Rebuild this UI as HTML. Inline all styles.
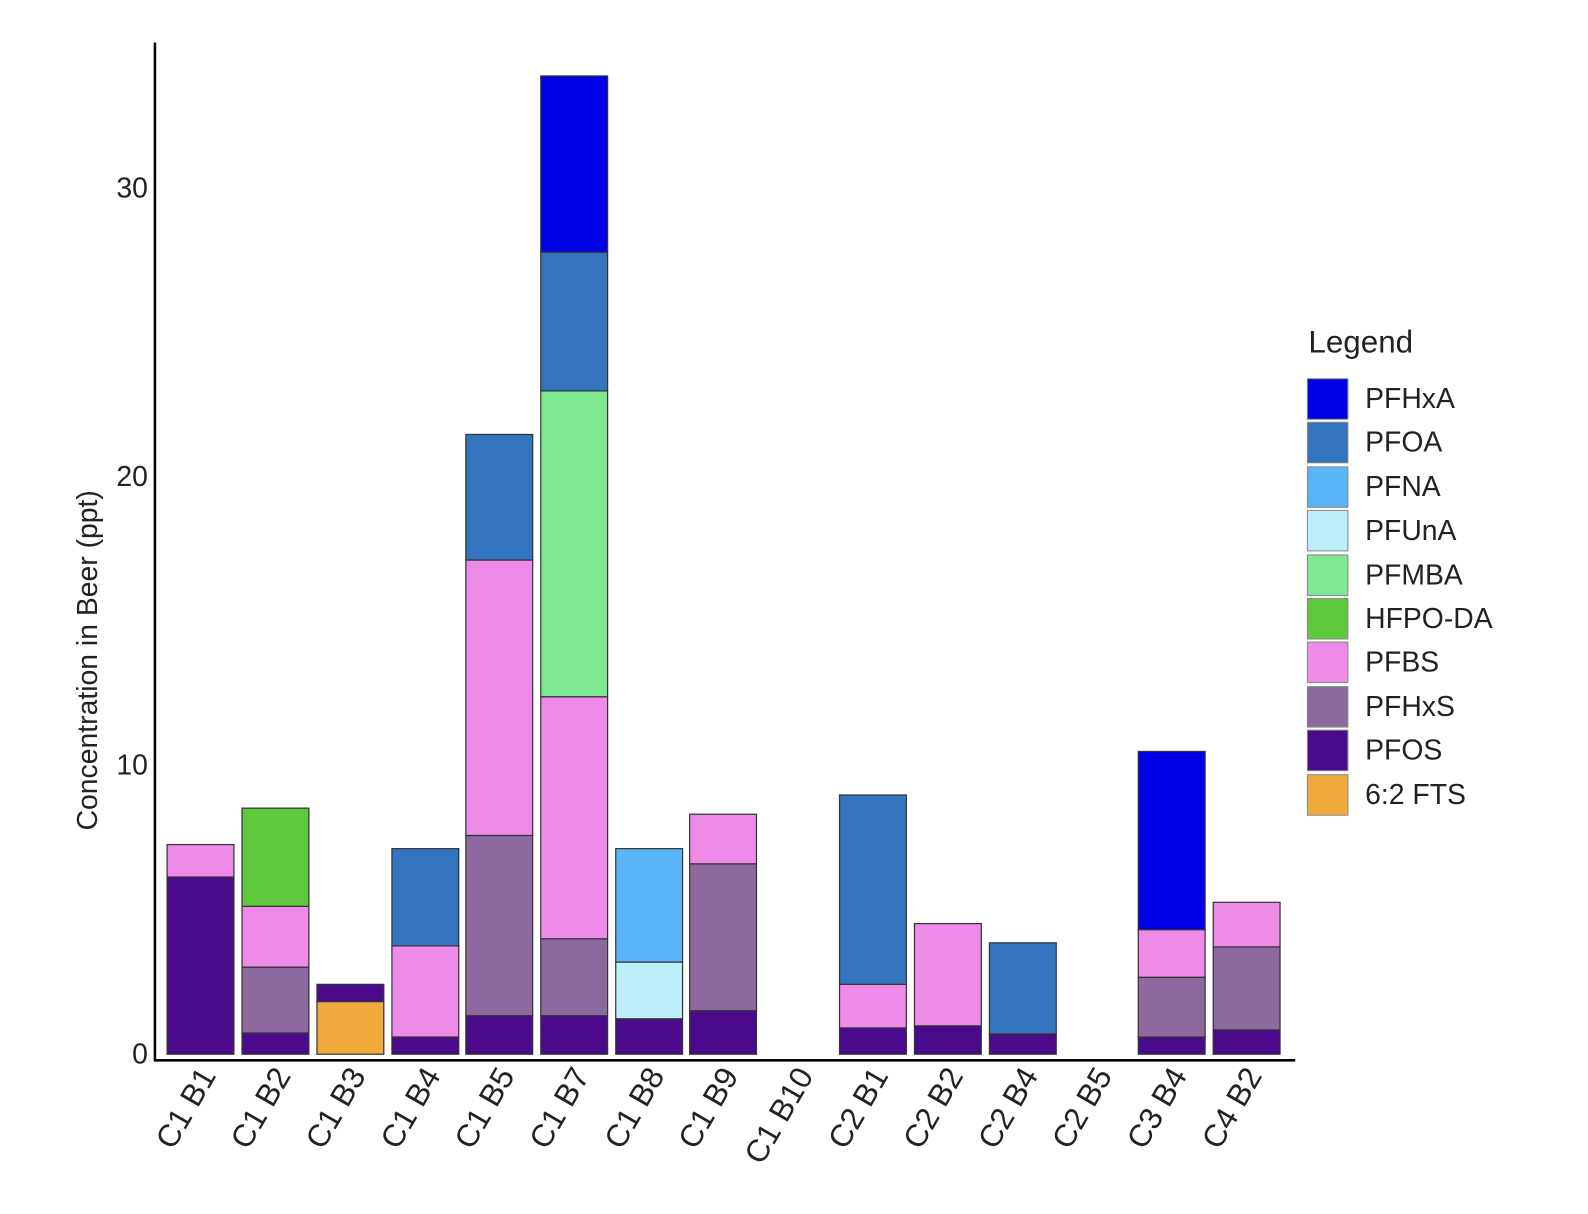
<!DOCTYPE html>
<html><head><meta charset="utf-8"><style>
html,body{margin:0;padding:0;background:#fff;}
svg{display:block;font-family:"Liberation Sans",Arial,sans-serif;}
</style></head><body>
<svg width="1588" height="1214" viewBox="0 0 1588 1214" xmlns="http://www.w3.org/2000/svg">
<rect width="1588" height="1214" fill="#fff"/>
<g transform="scale(1.0127)">
<g stroke="#333" stroke-width="1.2">
<rect x="165" y="866" width="66" height="175" fill="#4b0a8c"/>
<rect x="165" y="834" width="66" height="32" fill="#ee8ae8"/>
<rect x="239" y="1020" width="66" height="21" fill="#4b0a8c"/>
<rect x="239" y="955" width="66" height="65" fill="#8c6aa0"/>
<rect x="239" y="895" width="66" height="60" fill="#ee8ae8"/>
<rect x="239" y="798" width="66" height="97" fill="#5ec83c"/>
<rect x="313" y="989" width="66" height="52" fill="#f0aa3c"/>
<rect x="313" y="972" width="66" height="17" fill="#4b0a8c"/>
<rect x="387" y="1024" width="66" height="17" fill="#4b0a8c"/>
<rect x="387" y="934" width="66" height="90" fill="#ee8ae8"/>
<rect x="387" y="838" width="66" height="96" fill="#3274bd"/>
<rect x="460" y="1003" width="66" height="38" fill="#4b0a8c"/>
<rect x="460" y="825" width="66" height="178" fill="#8c6aa0"/>
<rect x="460" y="553" width="66" height="272" fill="#ee8ae8"/>
<rect x="460" y="429" width="66" height="124" fill="#3274bd"/>
<rect x="534" y="1003" width="66" height="38" fill="#4b0a8c"/>
<rect x="534" y="927" width="66" height="76" fill="#8c6aa0"/>
<rect x="534" y="688" width="66" height="239" fill="#ee8ae8"/>
<rect x="534" y="386" width="66" height="302" fill="#7de891"/>
<rect x="534" y="249" width="66" height="137" fill="#3274bd"/>
<rect x="534" y="75" width="66" height="174" fill="#0000e6"/>
<rect x="608" y="1006" width="66" height="35" fill="#4b0a8c"/>
<rect x="608" y="950" width="66" height="56" fill="#bdeefa"/>
<rect x="608" y="838" width="66" height="112" fill="#5ab4f8"/>
<rect x="681" y="998" width="66" height="43" fill="#4b0a8c"/>
<rect x="681" y="853" width="66" height="145" fill="#8c6aa0"/>
<rect x="681" y="804" width="66" height="49" fill="#ee8ae8"/>
<rect x="829" y="1015" width="66" height="26" fill="#4b0a8c"/>
<rect x="829" y="972" width="66" height="43" fill="#ee8ae8"/>
<rect x="829" y="785" width="66" height="187" fill="#3274bd"/>
<rect x="903" y="1013" width="66" height="28" fill="#4b0a8c"/>
<rect x="903" y="912" width="66" height="101" fill="#ee8ae8"/>
<rect x="977" y="1021" width="66" height="20" fill="#4b0a8c"/>
<rect x="977" y="931" width="66" height="90" fill="#3274bd"/>
<rect x="1124" y="1024" width="66" height="17" fill="#4b0a8c"/>
<rect x="1124" y="965" width="66" height="59" fill="#8c6aa0"/>
<rect x="1124" y="918" width="66" height="47" fill="#ee8ae8"/>
<rect x="1124" y="742" width="66" height="176" fill="#0000e6"/>
<rect x="1198" y="1017" width="66" height="24" fill="#4b0a8c"/>
<rect x="1198" y="935" width="66" height="82" fill="#8c6aa0"/>
<rect x="1198" y="891" width="66" height="44" fill="#ee8ae8"/>
</g>
<line x1="153" y1="42" x2="153" y2="1048" stroke="#000" stroke-width="2.5"/>
<line x1="152" y1="1047" x2="1279" y2="1047" stroke="#000" stroke-width="2.5"/>
<g font-size="28" fill="#222" text-anchor="end">
<text x="146" y="195">30</text>
<text x="146" y="480">20</text>
<text x="146" y="765">10</text>
<text x="146" y="1050">0</text>
</g>
<text transform="translate(96,652) rotate(-90)" font-size="28" fill="#222" text-anchor="middle">Concentration in Beer (ppt)</text>
<g font-size="31" fill="#222" text-anchor="end">
<text transform="translate(214,1062) rotate(-60)">C1 B1</text>
<text transform="translate(288,1062) rotate(-60)">C1 B2</text>
<text transform="translate(362,1062) rotate(-60)">C1 B3</text>
<text transform="translate(436,1062) rotate(-60)">C1 B4</text>
<text transform="translate(509,1062) rotate(-60)">C1 B5</text>
<text transform="translate(583,1062) rotate(-60)">C1 B7</text>
<text transform="translate(657,1062) rotate(-60)">C1 B8</text>
<text transform="translate(730,1062) rotate(-60)">C1 B9</text>
<text transform="translate(804,1062) rotate(-60)">C1 B10</text>
<text transform="translate(878,1062) rotate(-60)">C2 B1</text>
<text transform="translate(952,1062) rotate(-60)">C2 B2</text>
<text transform="translate(1026,1062) rotate(-60)">C2 B4</text>
<text transform="translate(1099,1062) rotate(-60)">C2 B5</text>
<text transform="translate(1173,1062) rotate(-60)">C3 B4</text>
<text transform="translate(1247,1062) rotate(-60)">C4 B2</text>
</g>
<text x="1292" y="348" font-size="31" fill="#222">Legend</text>
<g stroke="#888" stroke-width="1">
<rect x="1291" y="374" width="40" height="40" fill="#0000e6"/>
<rect x="1291" y="417" width="40" height="40" fill="#3274bd"/>
<rect x="1291" y="461" width="40" height="40" fill="#5ab4f8"/>
<rect x="1291" y="504" width="40" height="40" fill="#bdeefa"/>
<rect x="1291" y="548" width="40" height="40" fill="#7de891"/>
<rect x="1291" y="591" width="40" height="40" fill="#5ec83c"/>
<rect x="1291" y="634" width="40" height="40" fill="#ee8ae8"/>
<rect x="1291" y="678" width="40" height="40" fill="#8c6aa0"/>
<rect x="1291" y="721" width="40" height="40" fill="#4b0a8c"/>
<rect x="1291" y="765" width="40" height="40" fill="#f0aa3c"/>
</g>
<g font-size="28" fill="#222">
<text x="1348" y="403">PFHxA</text>
<text x="1348" y="446">PFOA</text>
<text x="1348" y="490">PFNA</text>
<text x="1348" y="533">PFUnA</text>
<text x="1348" y="577">PFMBA</text>
<text x="1348" y="620">HFPO-DA</text>
<text x="1348" y="663">PFBS</text>
<text x="1348" y="707">PFHxS</text>
<text x="1348" y="750">PFOS</text>
<text x="1348" y="794">6:2 FTS</text>
</g>
</g>
</svg>
</body></html>
